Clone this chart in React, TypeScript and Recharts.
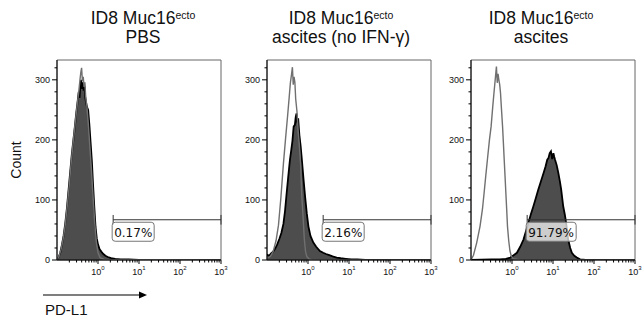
import React from "react";
import {
  ComposedChart, Area, Line, XAxis, YAxis, ReferenceLine, ReferenceArea, ReferenceDot,
} from "recharts";

const SANS = "'Liberation Sans', Arial, sans-serif";

// x = log10(PD-L1 intensity), y = event count
// PBS
const pbsX = [-1.0, -0.97, -0.92, -0.88, -0.84, -0.8, -0.76, -0.72, -0.68, -0.64, -0.6, -0.56, -0.53, -0.5, -0.47, -0.45, -0.43, -0.41, -0.39, -0.37, -0.35, -0.33, -0.31, -0.29, -0.27, -0.24, -0.21, -0.18, -0.15, -0.12, -0.09, -0.06, -0.03, 0, 0.04, 0.08, 0.13, 0.18, 0.24, 0.32, 0.42, 0.55, 0.75, 1.0, 3.0];
const pbsCount = [0, 3, 12, 25, 40, 60, 85, 115, 145, 175, 200, 225, 245, 262, 280, 270, 292, 300, 285, 296, 282, 290, 270, 262, 255, 250, 225, 195, 165, 125, 88, 55, 36, 26, 18, 14, 10, 7, 5, 3, 2, 1, 1, 0, 0];
const pbsIsoX = [-1.0, -0.95, -0.9, -0.85, -0.8, -0.75, -0.7, -0.65, -0.6, -0.55, -0.5, -0.47, -0.44, -0.42, -0.4, -0.38, -0.36, -0.34, -0.32, -0.3, -0.27, -0.24, -0.2, -0.16, -0.12, -0.08, -0.04, 0, 0.05, 0.15, 3.0];
const pbsIso = [0, 6, 18, 35, 58, 90, 125, 165, 200, 232, 262, 280, 300, 312, 320, 298, 305, 288, 296, 272, 255, 230, 190, 150, 105, 62, 30, 12, 4, 1, 0];

// ascites (no IFN-γ)
const noIfnX = [-1.0, -0.95, -0.9, -0.85, -0.8, -0.75, -0.7, -0.65, -0.6, -0.56, -0.52, -0.48, -0.44, -0.41, -0.38, -0.35, -0.32, -0.3, -0.28, -0.26, -0.24, -0.21, -0.18, -0.15, -0.11, -0.07, -0.03, 0.01, 0.06, 0.13, 0.2, 0.29, 0.37, 0.44, 0.52, 0.6, 0.7, 0.8, 0.92, 1.06, 1.2, 1.4, 3.0];
const noIfnCount = [9, 7, 11, 14, 19, 26, 35, 45, 60, 82, 112, 140, 167, 182, 198, 222, 225, 238, 244, 228, 236, 208, 190, 167, 135, 105, 78, 56, 40, 29, 22, 15, 12, 10, 8, 6, 4, 3, 2, 1, 1, 0, 0];
const noIfnIsoX = [-1.0, -0.92, -0.85, -0.78, -0.72, -0.66, -0.6, -0.55, -0.5, -0.46, -0.43, -0.4, -0.38, -0.36, -0.34, -0.32, -0.3, -0.27, -0.24, -0.21, -0.18, -0.15, -0.12, -0.09, -0.06, -0.03, 0.02, 0.1, 3.0];
const noIfnIso = [3, 6, 14, 32, 58, 105, 160, 200, 238, 270, 295, 310, 321, 292, 305, 296, 268, 248, 215, 190, 160, 105, 72, 35, 14, 6, 2, 0, 0];

// ascites
const ascX = [-1.0, -0.5, -0.3, -0.15, -0.04, 0.04, 0.12, 0.2, 0.28, 0.34, 0.4, 0.46, 0.52, 0.58, 0.64, 0.7, 0.77, 0.82, 0.86, 0.89, 0.92, 0.95, 0.98, 1.01, 1.03, 1.05, 1.09, 1.13, 1.17, 1.2, 1.25, 1.29, 1.32, 1.37, 1.42, 1.46, 1.52, 1.58, 1.66, 1.8, 3.0];
const ascCount = [0, 1, 1, 2, 4, 8, 12, 22, 34, 48, 62, 76, 89, 103, 117, 130, 145, 156, 167, 170, 178, 181, 168, 178, 172, 167, 158, 145, 130, 117, 89, 75, 62, 34, 20, 12, 7, 4, 1, 0, 0];
const ascIsoX = [-1.0, -0.94, -0.86, -0.78, -0.72, -0.68, -0.64, -0.6, -0.55, -0.51, -0.47, -0.44, -0.41, -0.38, -0.36, -0.34, -0.32, -0.3, -0.28, -0.26, -0.23, -0.21, -0.19, -0.17, -0.15, -0.13, -0.11, -0.08, -0.05, -0.02, 0.03, 0.2, 3.0];
const ascIso = [0, 8, 29, 56, 85, 112, 140, 167, 200, 222, 255, 278, 300, 322, 295, 310, 300, 292, 278, 255, 222, 195, 167, 140, 112, 85, 56, 32, 15, 7, 2, 0, 0];

const titles = ["PBS", "ascites (no IFN-γ)", "ascites"];
const gatePct = ["0.17%", "2.16%", "91.79%"];
const gateStart = 0.37; // log10 of gate lower bound
const gateLevel = 67;

const xMajor = [0, 1, 2, 3];
const xMinorMult = [2, 3, 4, 5, 6, 7, 8, 9];
const yTicks = [0, 20, 40, 60, 80, 100, 120, 140, 160, 180, 200, 220, 240, 260, 280, 300, 320];

const xTicks = [
  ...xMajor,
  ...[-1, 0, 1, 2].flatMap((d) => xMinorMult.map((m) => d + Math.log10(m))),
].sort((a, b) => a - b);

function merge(fx: number[], fy: number[], gx: number[], gy: number[]) {
  const xs = Array.from(new Set([...fx, ...gx])).sort((a, b) => a - b);
  return xs.map((x) => {
    const i = fx.indexOf(x);
    const j = gx.indexOf(x);
    return { x, f: i >= 0 ? fy[i] : null, g: j >= 0 ? gy[j] : null };
  });
}

const panelData = [
  merge(pbsX, pbsCount, pbsIsoX, pbsIso),
  merge(noIfnX, noIfnCount, noIfnIsoX, noIfnIso),
  merge(ascX, ascCount, ascIsoX, ascIso),
];

function XTick({ x, y, payload }: any) {
  const v = payload.value;
  const major = Math.abs(v - Math.round(v)) < 1e-6;
  return (
    <g>
      <line x1={x} x2={x} y1={y} y2={y + (major ? 4 : 2.5)} stroke="#000" />
      {major && (
        <text x={x} y={y + 14.5} textAnchor="middle" fontSize={9} fontFamily={SANS} fill="#111">
          10<tspan dy={-4.5} fontSize={6}>{Math.round(v)}</tspan>
        </text>
      )}
    </g>
  );
}

function YTick({ x, y, payload }: any) {
  const major = payload.value % 100 === 0;
  return (
    <g>
      <line x1={x - (major ? 5 : 2.5)} x2={x} y1={y} y2={y} stroke="#000" />
      {major && (
        <text x={x - 7} y={y + 3} textAnchor="end" fontSize={9} fontFamily={SANS} fill="#111">
          {payload.value}
        </text>
      )}
    </g>
  );
}

function GateLabel({ cx, cy, text }: any) {
  const w = text.length * 8 + 2;
  return (
    <g>
      <rect x={cx - 1} y={cy + 2.5} width={w} height={19} rx={3}
        fill="#fff" fillOpacity={0.72} stroke="#777" />
      <text x={cx + 1} y={cy + 17} fontSize={12} fontFamily="'DejaVu Sans', sans-serif" fill="#111">
        {text}
      </text>
    </g>
  );
}

const plotLefts = [57, 267, 471];
const titleCenters = [143, 341, 541];

function Panel({ idx }: { idx: number }) {
  return (
    <div style={{ position: "absolute", left: plotLefts[idx] - 40, top: 0 }}>
      <ComposedChart width={218} height={285} data={panelData[idx]}
        margin={{ top: 60, right: 14, bottom: 0, left: 0 }}>
        <XAxis dataKey="x" type="number" domain={[-1, 3]} ticks={xTicks} interval={0}
          tick={<XTick />} tickLine={false} tickSize={0} tickMargin={0}
          axisLine={{ stroke: "#000" }} height={25} allowDataOverflow />
        <YAxis type="number" domain={[0, 333]} ticks={yTicks} interval={0}
          tick={<YTick />} tickLine={false} tickSize={0} tickMargin={0}
          axisLine={{ stroke: "#000" }} width={40} allowDataOverflow />
        <ReferenceArea x1={-1} x2={3} y1={0} y2={333} fill="none" fillOpacity={0} stroke="#666" />
        <Area dataKey="f" type="linear" fill="#4d4d4d" fillOpacity={1} stroke="#000"
          strokeWidth={1.8} connectNulls dot={false} activeDot={false} isAnimationActive={false} />
        <Line dataKey="g" type="linear" stroke="#707070" strokeWidth={1.4}
          connectNulls dot={false} activeDot={false} isAnimationActive={false} />
        <ReferenceLine segment={[{ x: gateStart, y: gateLevel }, { x: 3, y: gateLevel }]} stroke="#333" />
        <ReferenceLine segment={[{ x: gateStart, y: gateLevel - 8 }, { x: gateStart, y: gateLevel + 8 }]} stroke="#333" />
        <ReferenceLine segment={[{ x: 3, y: gateLevel - 8 }, { x: 3, y: gateLevel + 8 }]} stroke="#333" />
        <ReferenceDot x={gateStart} y={gateLevel} r={0}
          shape={(p: any) => <GateLabel cx={p.cx} cy={p.cy} text={gatePct[idx]} />} />
      </ComposedChart>
    </div>
  );
}

export default function App() {
  return (
    <div style={{ position: "absolute", left: 0, top: 0, width: 644, height: 326, background: "#fff" }}>
      <svg width={644} height={326} style={{ position: "absolute", left: 0, top: 0 }}>
        {titles.map((t, i) => (
          <g key={t} fontFamily={SANS} fill="#111" textAnchor="middle">
            <text x={titleCenters[i]} y={24} fontSize={17.5}>
              ID8 Muc16<tspan dy={-5} fontSize={10.5}>ecto</tspan>
            </text>
            <text x={titleCenters[i]} y={43} fontSize={17.5}>{t}</text>
          </g>
        ))}
        <text transform="translate(21,160) rotate(-90)" textAnchor="middle" fontSize={14}
          fontFamily={SANS} fill="#111">Count</text>
        <line x1={43} y1={295} x2={140} y2={295} stroke="#000" strokeWidth={1.2} />
        <polygon points="147,295 139,291.5 139,298.5" fill="#000" />
        <text x={45} y={315} fontSize={15} fontFamily={SANS} fill="#111">PD-L1</text>
      </svg>
      {[0, 1, 2].map((i) => <Panel key={i} idx={i} />)}
    </div>
  );
}
